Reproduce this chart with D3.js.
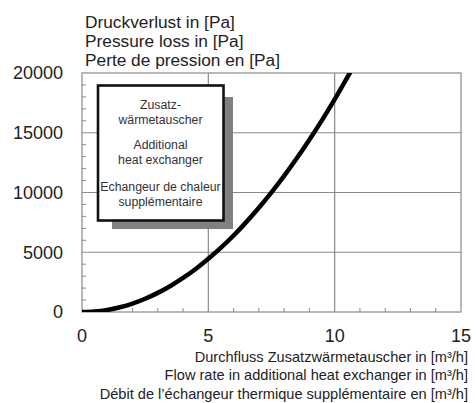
<!DOCTYPE html>
<html><head><meta charset="utf-8">
<script src="https://cdn.jsdelivr.net/npm/d3@7"></script>
<style>body{margin:0;background:#fff}svg{display:block}text{font-family:"Liberation Sans",Arial,sans-serif}</style>
</head><body><svg id="c" width="476" height="403"></svg>
<script>
const flow = [0,0.5,1,1.5,2,2.5,3,3.5,4,4.5,5,5.5,6,6.5,7,7.5,8,8.5,9,9.5,10,10.6];
const pressure = [0,40,170,400,710,1110,1600,2180,2850,3600,4450,5380,6400,7520,8720,10010,11390,12860,14420,16060,17800,20000];
const xTicks = [0,5,10,15];
const yTicks = [0,5000,10000,15000,20000];
const yTitle = ["Druckverlust in [Pa]","Pressure loss in [Pa]","Perte de pression en [Pa]"];
const xTitle = ["Durchfluss Zusatzwärmetauscher in [m³/h]","Flow rate in additional heat exchanger in [m³/h]","Débit de l’échangeur thermique supplémentaire en [m³/h]"];
const legendLines = [["Zusatz-","wärmetauscher"],["Additional","heat exchanger"],["Echangeur de chaleur","supplémentaire"]];

const svg = d3.select("#c");
const L=82,R=461,T=73,B=312;
const x = d3.scaleLinear().domain([0,15]).range([L,R]);
const y = d3.scaleLinear().domain([0,20000]).range([B,T]);
const grid="#8a8a8a";

svg.append("g").selectAll("line").data([5,10]).join("line")
  .attr("x1",d=>x(d)).attr("x2",d=>x(d)).attr("y1",T).attr("y2",B)
  .attr("stroke",grid).attr("stroke-width",1.2);
svg.append("g").selectAll("line").data([5000,10000,15000]).join("line")
  .attr("x1",L).attr("x2",R).attr("y1",d=>y(d)).attr("y2",d=>y(d))
  .attr("stroke",grid).attr("stroke-width",1.2);
svg.append("rect").attr("x",L).attr("y",T).attr("width",R-L).attr("height",B-T)
  .attr("fill","none").attr("stroke",grid).attr("stroke-width",1.2);

const yMinor = d3.range(1000,20000,1000).filter(v=>v%5000!==0);
svg.append("g").selectAll("line").data(yMinor).join("line")
  .attr("x1",L).attr("x2",L+4).attr("y1",d=>y(d)).attr("y2",d=>y(d))
  .attr("stroke",grid).attr("stroke-width",1);
const xMinor = d3.range(1,15,1).filter(v=>v%5!==0);
svg.append("g").selectAll("line").data(xMinor).join("line")
  .attr("x1",d=>x(d)).attr("x2",d=>x(d)).attr("y1",B).attr("y2",B-4)
  .attr("stroke",grid).attr("stroke-width",1);

svg.append("g").selectAll("text").data(yTicks).join("text")
  .attr("x",63).attr("y",d=>y(d)).attr("dy","0.36em").attr("text-anchor","end")
  .attr("font-size",18).attr("fill","#222").text(d=>d);
svg.append("g").selectAll("text").data(xTicks).join("text")
  .attr("x",d=>x(d)).attr("y",342).attr("text-anchor","middle")
  .attr("font-size",18).attr("fill","#222").text(d=>d);

svg.append("g").selectAll("text").data(yTitle).join("text")
  .attr("x",85).attr("y",(d,i)=>28+i*18.8).attr("font-size",17.3).attr("fill","#222").text(d=>d);
svg.append("g").selectAll("text").data(xTitle).join("text")
  .attr("x",468).attr("y",(d,i)=>362+i*18.3).attr("text-anchor","end").attr("font-size",14.6).attr("fill","#222").text(d=>d);

svg.append("rect").attr("x",112).attr("y",97).attr("width",121).attr("height",132).attr("fill","#808080");
svg.append("rect").attr("x",98).attr("y",85.5).attr("width",125.5).attr("height",135).attr("fill","#fff").attr("stroke","#111").attr("stroke-width",2.6);
const lg = svg.append("g");
const groupY=[104.5,145,187];
legendLines.forEach((g,gi)=>{
  g.forEach((s,li)=>{
    lg.append("text").attr("x",160.5).attr("y",groupY[gi]+li*15).attr("dy","0.35em")
      .attr("text-anchor","middle").attr("font-size",12.3).attr("fill","#333").text(s);
  });
});

svg.append("clipPath").attr("id","clip").append("rect").attr("x",L).attr("y",T).attr("width",R-L).attr("height",B-T);
const line = d3.line().x((d,i)=>x(flow[i])).y(d=>y(d)).curve(d3.curveMonotoneX);
svg.append("path").datum(pressure).attr("d",line).attr("fill","none")
  .attr("stroke","#000").attr("stroke-width",4.5).attr("stroke-linecap","round")
  .attr("clip-path","url(#clip)");
</script></body></html>
